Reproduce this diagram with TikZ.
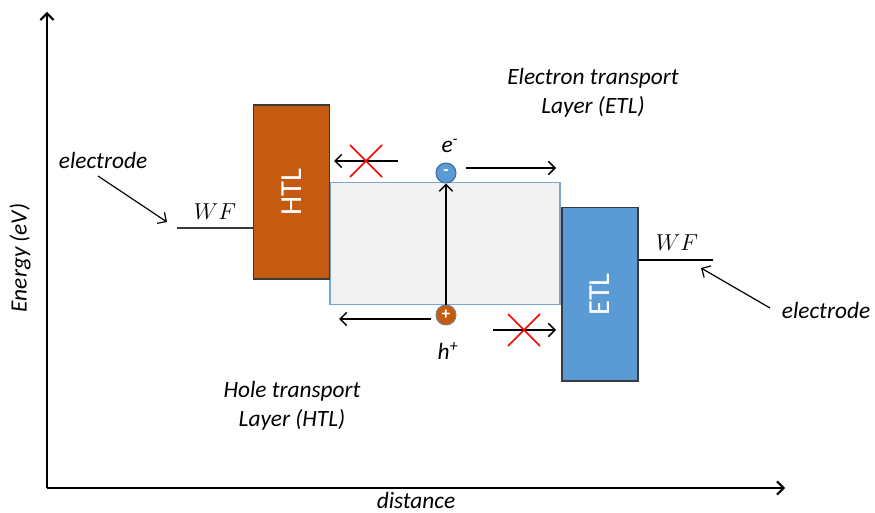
\documentclass[tikz,border=0pt]{standalone}
\usepackage{fontspec}
\setmainfont{Carlito}
\usepackage{xcolor}
\usetikzlibrary{arrows.meta,positioning,calc}

\definecolor{htlorange}{HTML}{C55A11}
\definecolor{etlblue}{HTML}{5B9BD5}
\definecolor{gapgray}{HTML}{F2F2F2}
\definecolor{gapedge}{HTML}{7DA5D2}
\definecolor{boxedge}{HTML}{3A3A3A}

\tikzset{
    layer/.style={draw=boxedge, line width=1pt, minimum width=57pt, text=white,
        font=\fontsize{23}{27}\selectfont},
    lbl/.style={font=\fontsize{17.5}{21.75}\selectfont\itshape, align=center},
    carrier/.style={circle, draw, line width=0.8pt, minimum size=15pt, inner sep=0pt,
        text=white, font=\fontsize{13}{13}\selectfont\bfseries},
    flow/.style={-{Straight Barb[length=5pt,width=10pt]}, line width=1.1pt},
    cross/.style={red, line width=1.3pt}
}

\begin{document}
\begin{tikzpicture}[x=0.75pt,y=-0.75pt]
    \useasboundingbox (0,0) rectangle (875,513);
    % axes
    \coordinate (origin) at (47,488);
    \coordinate (ytop) at (47,12);
    \coordinate (xend) at (785,488);
    \draw[flow, line width=1.5pt] (origin) -- (ytop);
    \draw[flow, line width=1.5pt] (origin) -- (xend);
    \node[lbl, rotate=90] (elabel) at (20,258) {Energy (eV)};
    \node[lbl] (dlabel) at (416,500) {distance};

    % layers
    \node[draw=gapedge, fill=gapgray, line width=0.8pt, minimum width=172.5pt, minimum height=91.5pt] (gap) at (445,243.5) {};
    \node[layer, fill=htlorange, minimum height=130.5pt] (htl) at (291.5,192) {\rotatebox{90}{HTL}};
    \node[layer, fill=etlblue, minimum height=130pt] (etl) at (600,294.5) {\rotatebox{90}{ETL}};

    % work functions
    \coordinate (wfl) at (177,228);
    \coordinate (wfr) at (713,260);
    \draw[boxedge, line width=1.5pt] (wfl) -- (wfl -| htl.west);
    \draw[black, line width=1.5pt] (wfr -| etl.east) -- (wfr);
    \node (wfltxt) at (215,212) {\fontsize{18}{20}\selectfont$WF$};
    \node (wfrtxt) at (677,243) {\fontsize{18}{20}\selectfont$WF$};

    % electrodes
    \node[lbl] (elecl) at (103,160) {electrode};
    \node[lbl] (elecr) at (826,310) {electrode};
    \coordinate (arrl) at (98,176);
    \coordinate (tipl) at (167,222);
    \coordinate (arrr) at (770,308);
    \coordinate (tipr) at (701,268);
    \draw[flow, line width=0.9pt] (arrl) -- (tipl);
    \draw[flow, line width=0.9pt] (arrr) -- (tipr);

    % carriers
    \node[carrier, fill=etlblue, draw=etlblue!70!black] (el) at (446,173) {-};
    \node[carrier, fill=htlorange, draw=gray] (ho) at (446,315) {+};
    \node[lbl] (eltxt) at (450,146) {e\textsuperscript{-}};
    \node[lbl] (hotxt) at (448,351) {h\textsuperscript{+}};
    \draw[flow] (ho.north |- gap.south) -- (el.south);

    % transfer arrows
    \coordinate (a1) at (398,161);
    \coordinate (a2) at (334,161);
    \coordinate (b1) at (466,168);
    \coordinate (b2) at (556,168);
    \coordinate (c1) at (431,319);
    \coordinate (c2) at (339,319);
    \coordinate (d1) at (493,330);
    \coordinate (d2) at (556,330);
    \draw[flow] (a1) -- (a2);
    \draw[flow] (b1) -- (b2);
    \draw[flow] (c1) -- (c2);
    \draw[flow] (d1) -- (d2);
    \draw[cross] (350,145) -- (382,177) (350,177) -- (382,145);
    \draw[cross] (508,314) -- (540,346) (508,346) -- (540,314);

    % layer labels
    \node[lbl] (etltxt) at (593,93) {Electron transport\\Layer (ETL)};
    \node[lbl] (htltxt) at (292,406) {Hole transport\\Layer (HTL)};
\end{tikzpicture}
\end{document}
